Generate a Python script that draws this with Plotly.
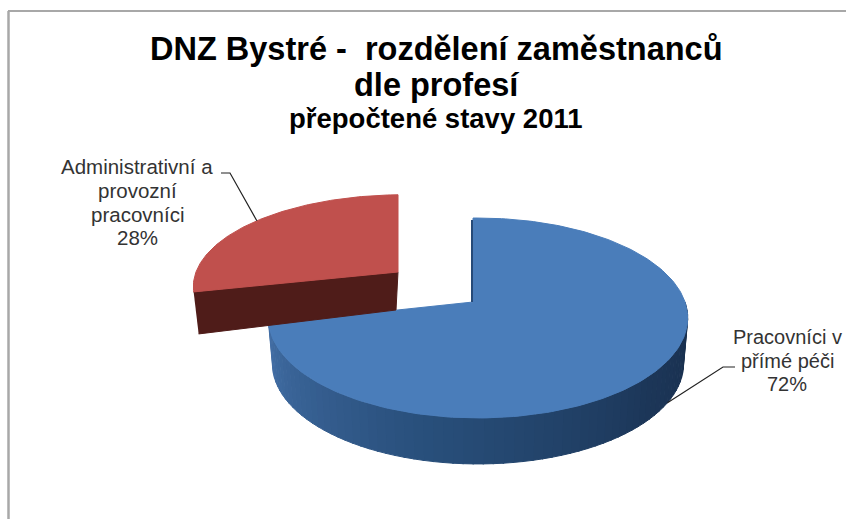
import numpy as np
import plotly.graph_objects as go

# --- data ---
categories = ["Pracovníci v přímé péči", "Administrativní a provozní pracovníci"]
shares = [72, 28]
blue_label = ["Pracovníci v", "přímé péči", "72%"]
red_label = ["Administrativní a", "provozní", "pracovníci", "28%"]
title_lines = ["DNZ Bystré -\u00a0\u00a0rozdělení zaměstnanců", "dle profesí"]
title_sub = "přepočtené stavy 2011"

# --- perspective projection of the 3D pie into page pixels ---
W, H = 846, 519
CX, APEX_X, APEX_Y = 478, 473, 302
A, B, P = 207, 97.4, 0.16
DEPTH = 46
BOTTOM_SCALE = 0.98
START = -1.6
EXPLODE = (-75, -30)
RED_YSCALE = 0.92
FONT = "Liberation Sans"


def rim(theta_deg, dx=0, dy=0, xscale=1.0, yscale=1.0):
    t = np.radians(np.asarray(theta_deg, dtype=float))
    u, v = np.sin(t), np.cos(t)
    s = 1 / (1 + P * v)
    return CX + A * u * s * xscale + dx, APEX_Y - B * v * s * yscale + dy


fracs = np.array(shares) / sum(shares) * 360
a0, a1 = START, START + fracs[0]
b0, b1 = a1, a1 + fracs[1]

fig = go.Figure()


def poly(x, y, color):
    fig.add_trace(go.Scatter(x=list(x), y=list(y), mode="lines", fill="toself", fillcolor=color,
                             line=dict(color=color, width=1), hoverinfo="skip", showlegend=False))


def mix(c1, c2, f):
    return "rgb(%d,%d,%d)" % tuple(round(p + (q - p) * f) for p, q in zip(c1, c2))


# blue outer wall, as a gradient of thin strips
lo, hi = 90, a1
N = 70
stops = [(0.0, (24, 46, 76)), (0.25, (28, 54, 88)), (0.6, (40, 78, 122)), (1.0, (66, 110, 165))]
for i in range(N):
    s = np.linspace(lo + (hi - lo) * i / N, lo + (hi - lo) * (i + 1) / N + 0.3, 4)
    x, y = rim(s)
    xb, yb = rim(s[::-1], 0, DEPTH, xscale=BOTTOM_SCALE)
    f = (i + .5) / N
    for (f0, c0), (f1, c1) in zip(stops, stops[1:]):
        if f0 <= f <= f1:
            col = mix(c0, c1, (f - f0) / (f1 - f0))
    poly(np.r_[x, xb], np.r_[y, yb], col)

# blue top face
t = np.linspace(a0, a1, 200)
x, y = rim(t)
poly(np.r_[APEX_X, x, APEX_X], np.r_[APEX_Y, y, APEX_Y], "#4a7dba")
# inner wall sliver on the blue slice
xs, ys = rim([a0])
fig.add_trace(go.Scatter(x=[xs[0] - 1, APEX_X - 1], y=[ys[0] + 2, APEX_Y], mode="lines",
                         line=dict(color="#264a78", width=2), hoverinfo="skip", showlegend=False))

# red slice
dx, dy = EXPLODE
ax, ay = APEX_X + dx, APEX_Y + dy
xl, yl = rim([b0], dx, dy, yscale=RED_YSCALE)
poly([xl[0], ax, ax - 2, xl[0] + 5], [yl[0], ay, ay + 38, yl[0] + 42], "#4f1c19")
t = np.linspace(b0, b1, 120)
x, y = rim(t, dx, dy, yscale=RED_YSCALE)
poly(np.r_[ax, x, ax], np.r_[ay, y, ay], "#c0504d")

# leader lines
mid_a = (a0 + a1) / 2
mid_b = (b0 + b1) / 2
p = rim([mid_a - 7], 0, DEPTH, xscale=BOTTOM_SCALE)
fig.add_trace(go.Scatter(x=[p[0][0], 723, 735], y=[p[1][0], 367, 367], mode="lines",
                         line=dict(color="#222222", width=1.2), hoverinfo="skip", showlegend=False))
p = rim([mid_b + 1], dx, dy, yscale=RED_YSCALE)
fig.add_trace(go.Scatter(x=[p[0][0], 230, 221], y=[p[1][0], 173, 173], mode="lines",
                         line=dict(color="#222222", width=1.2), hoverinfo="skip", showlegend=False))

# chart frame
fig.add_shape(type="line", x0=8.5, x1=8.5, y0=11, y1=H, line=dict(color="#a8a8a8", width=2.5))
fig.add_shape(type="line", x0=8, x1=W, y0=11, y1=11, line=dict(color="#a8a8a8", width=2))


def text_lines(lines, x, ys, size, color, weight="normal"):
    for line, y in zip(lines, ys):
        fig.add_annotation(x=x, y=y, text=line, xref="x", yref="y", showarrow=False, align="center",
                           font=dict(family=FONT, size=size, color=color, weight=weight))


text_lines(blue_label, 787, [337, 361, 384], 20, "#333333")
text_lines(red_label, 137, [166, 190, 214, 237], 20.5, "#333333")
text_lines(title_lines, 436, [49, 85], 32.5, "#000000", "bold")
text_lines([title_sub], 436, [118], 27.5, "#000000", "bold")

fig.update_layout(width=W, height=H, margin=dict(l=0, r=0, t=0, b=0), paper_bgcolor="white",
                  plot_bgcolor="white", showlegend=False,
                  xaxis=dict(range=[0, W], visible=False, fixedrange=True),
                  yaxis=dict(range=[H, 0], visible=False, fixedrange=True))
fig.write_html("out.html", config={"displayModeBar": False},
               post_script="document.body.style.margin='0';document.body.style.overflow='hidden';")
